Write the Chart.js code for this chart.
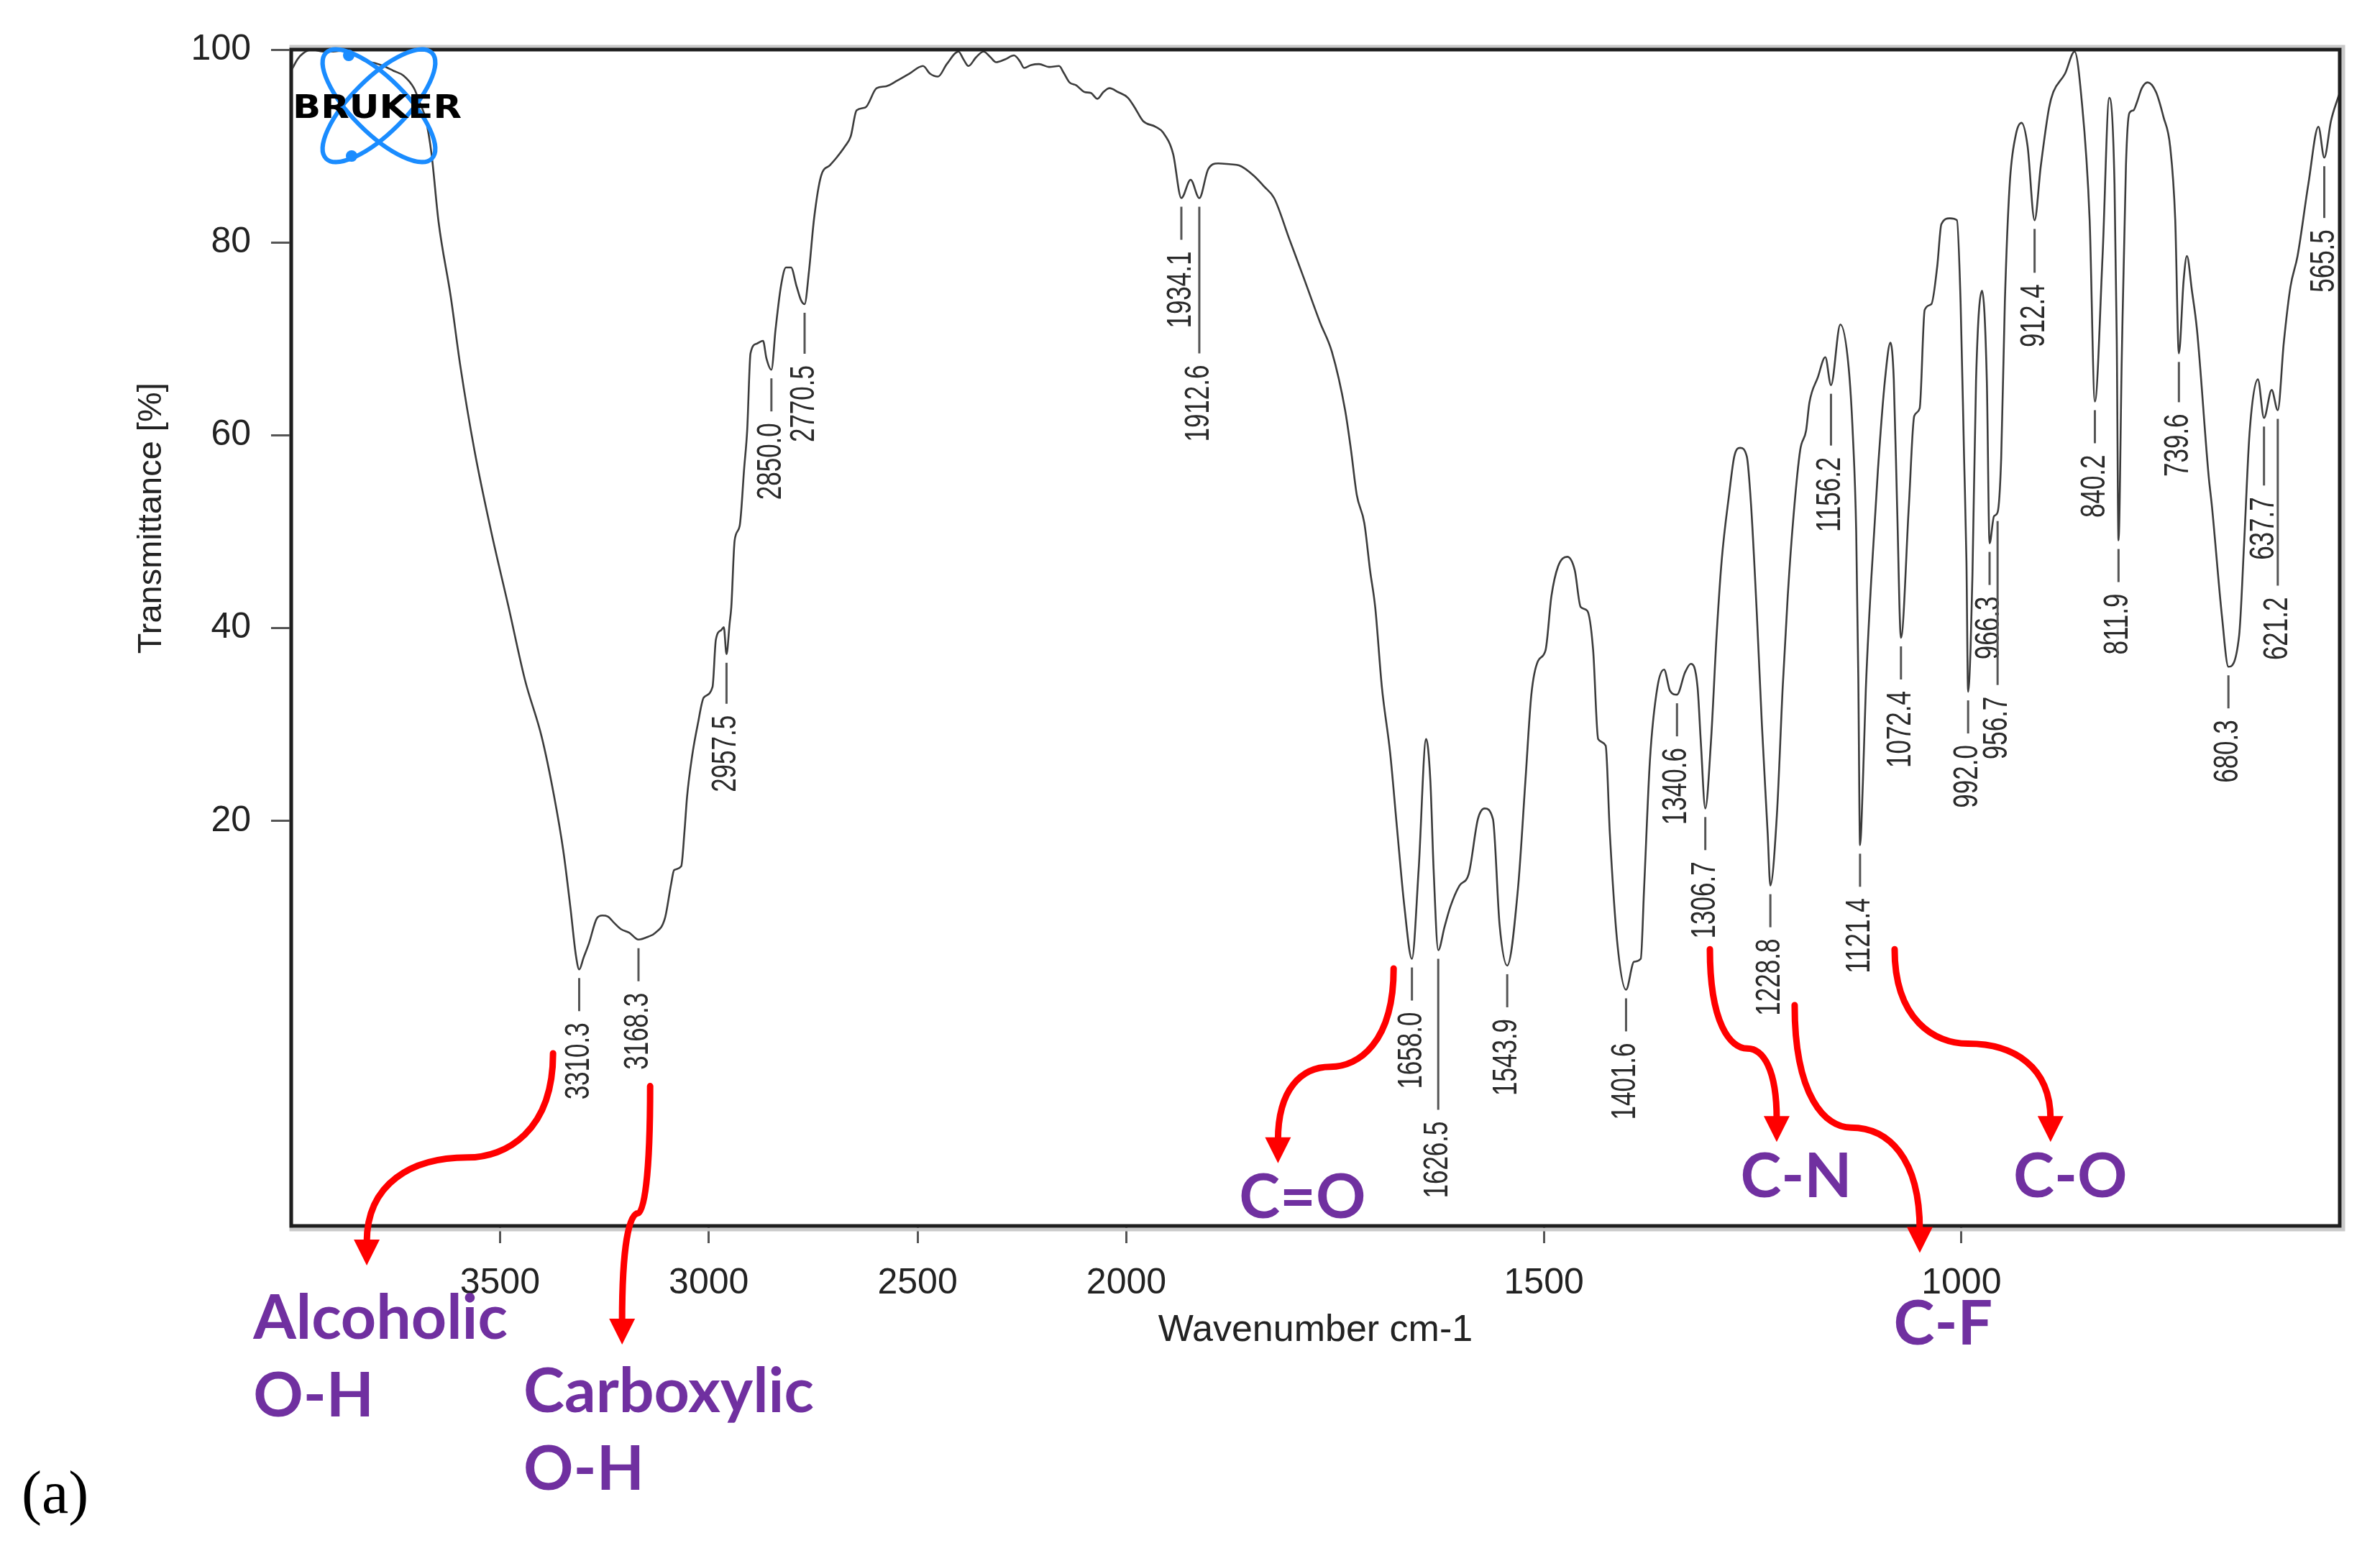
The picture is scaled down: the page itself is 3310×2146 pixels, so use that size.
<!DOCTYPE html>
<html>
<head>
  <meta charset="UTF-8">
  <title>FTIR spectrum (a)</title>
  <script src="https://cdn.jsdelivr.net/npm/chart.js"></script>
  <style>
    html, body { margin: 0; padding: 0; background: #fff; }
    #spectrum { display: block; }
  </style>
</head>
<body>
  <canvas id="spectrum" width="3310" height="2146"></canvas>

  <script>
    // spectrum: wavenumber (cm-1) and transmittance (%)
    const wavenumbers = [
      4000, 3985, 3972, 3950, 3925, 3900, 3875, 3851, 3827, 3800, 3779, 3755, 3731, 3706, 3692, 3678,
      3664, 3647, 3618, 3595, 3561, 3521, 3480, 3440, 3400, 3371, 3348, 3331, 3318, 3310.3, 3300, 3287,
      3268, 3255, 3242, 3226, 3211, 3190, 3168.3, 3145, 3128, 3105, 3090, 3083, 3066, 3058, 3052, 3040,
      3026, 3012, 2991, 2983, 2970, 2964, 2957.5, 2950, 2946, 2938, 2926, 2915, 2908, 2900, 2885, 2870,
      2862, 2850, 2840, 2827, 2815, 2803, 2790, 2779, 2770.5, 2760, 2748, 2731, 2710, 2694, 2675, 2660,
      2646, 2625, 2598, 2575, 2548, 2520, 2487, 2470, 2451, 2430, 2402, 2390, 2378, 2360, 2342, 2325,
      2312, 2290, 2269, 2255, 2245, 2228, 2209, 2185, 2161, 2150, 2136, 2120, 2100, 2085, 2069, 2055,
      2040, 2020, 1998, 1990, 1980, 1965, 1956, 1944, 1934.1, 1923, 1912.6, 1902, 1890, 1875, 1865, 1847,
      1835, 1823, 1805, 1787, 1768, 1754, 1738, 1731, 1724, 1715, 1708, 1702, 1694, 1684, 1676, 1667,
      1658, 1650, 1641, 1636, 1632, 1626.5, 1619, 1612, 1601, 1590, 1579, 1571, 1561, 1553, 1543.9, 1531,
      1522, 1515, 1507, 1498, 1491, 1483, 1472, 1463, 1456, 1448, 1441, 1435, 1426, 1421, 1412, 1401.6,
      1392, 1384, 1380, 1373, 1364, 1356, 1349, 1340.6, 1331, 1324, 1316, 1312, 1306.7, 1300, 1293, 1287,
      1278, 1272, 1265, 1257, 1252, 1245, 1239, 1232, 1228.8, 1221, 1214, 1208, 1201, 1193, 1186, 1182,
      1172, 1163, 1156.2, 1145, 1135, 1130, 1126, 1123.5, 1121.4, 1118, 1114.5, 1108, 1100, 1091.5, 1085, 1081,
      1077, 1072.4, 1063, 1056.5, 1050, 1044, 1036, 1029, 1024, 1014, 1005.4, 1001, 996.8, 994, 992, 989,
      986.8, 982.5, 975.3, 969.6, 966.3, 961, 956.7, 952.4, 948, 942.3, 935, 928, 920.8, 912.4, 905, 895,
      890, 876, 864.5, 856.5, 846.5, 840.2, 831, 823, 816.7, 814, 811.9, 808, 803, 799, 794, 790,
      784, 777, 767, 758, 750, 744, 739.6, 734, 730, 724, 718, 704, 700, 688, 680.3, 667.5,
      661.5, 655, 645, 637.7, 628.5, 621.2, 614, 606, 597.5, 584.5, 572.5, 565.5, 557.5, 549.5, 547
    ];
    const transmittance = [
      97.8, 99.0, 99.6, 100, 99.8, 99.8, 99.9, 99.6, 98.9, 98.6, 98.3, 97.8, 97.3, 96.0, 94.5, 92.8,
      89.2, 82.1, 74.4, 67.2, 58.4, 50.0, 42.3, 34.6, 28.7, 22.7, 16.8, 10.9, 6.0, 4.6, 5.8, 7.3,
      9.9, 10.2, 10.1, 9.4, 8.8, 8.4, 7.7, 8.0, 8.4, 9.9, 13.5, 14.9, 15.3, 19.0, 22.5, 26.7,
      30.1, 32.8, 33.9, 38.8, 39.8, 40.1, 37.3, 40.5, 42.2, 49.1, 50.6, 56.7, 60.5, 68.5, 69.5, 69.8,
      68.0, 66.8, 71.0, 75.5, 77.4, 77.4, 75.5, 74.0, 73.6, 77.0, 82.4, 86.9, 88.0, 88.8, 89.9, 91.0,
      93.7, 94.0, 96.0, 96.2, 96.8, 97.5, 98.3, 97.5, 97.2, 98.5, 99.8, 99.0, 98.3, 99.2, 99.8, 99.2,
      98.7, 99.0, 99.4, 98.8, 98.1, 98.4, 98.5, 98.2, 98.3, 97.6, 96.6, 96.3, 95.6, 95.5, 94.9, 95.6,
      96.0, 95.6, 95.0, 94.0, 92.6, 92.0, 91.4, 89.2, 84.6, 86.5, 84.6, 87.6, 88.2, 88.1, 88.0, 86.9,
      85.8, 84.6, 80.4, 76.2, 71.7, 68.7, 62.6, 58.5, 53.8, 50.9, 45.9, 42.2, 33.9, 27.0, 19.4, 11.1,
      5.7, 14.9, 28.5, 24.3, 14.9, 6.6, 9.0, 11.1, 13.3, 14.5, 20.2, 21.3, 20.2, 9.2, 5.0, 13.0,
      24.3, 33.1, 36.6, 37.7, 43.3, 46.4, 47.4, 46.0, 42.2, 41.8, 37.7, 28.5, 27.8, 18.7, 7.3, 2.5,
      5.4, 5.7, 13.0, 26.3, 33.9, 35.7, 33.5, 33.1, 35.4, 36.3, 33.9, 28.1, 21.3, 28.1, 39.5, 47.1,
      54.0, 57.8, 58.7, 57.8, 52.9, 41.5, 30.1, 18.7, 13.3, 20.6, 33.9, 43.3, 51.7, 58.5, 60.5, 63.4,
      66.0, 68.1, 65.2, 71.5, 67.0, 60.0, 50.0, 35.0, 17.5, 24.0, 33.6, 45.0, 56.4, 65.8, 69.6, 65.8,
      52.6, 39.0, 52.6, 62.0, 62.8, 73.0, 73.6, 77.5, 81.9, 82.5, 82.3, 73.8, 57.6, 47.0, 33.4, 38.0,
      45.5, 65.7, 75.0, 65.7, 48.8, 51.6, 52.0, 57.6, 73.8, 85.9, 91.1, 92.4, 90.0, 82.3, 87.9, 94.0,
      95.6, 97.5, 99.8, 95.2, 82.4, 63.5, 78.6, 95.0, 86.1, 70.0, 49.1, 68.0, 88.0, 93.4, 93.7, 94.5,
      96.0, 96.6, 95.6, 93.0, 89.9, 82.4, 68.5, 76.0, 78.6, 75.0, 71.0, 55.8, 52.6, 41.2, 36.0, 39.2,
      48.8, 60.2, 65.8, 61.8, 64.7, 62.6, 69.6, 75.4, 78.6, 86.1, 92.0, 88.8, 92.6, 94.9, 95.5
    ];

    const xTicks = [3500, 3000, 2500, 2000, 1500, 1000];
    const yTicks = [20, 40, 60, 80, 100];

    const peakLabels = [
      '3310.3', '3168.3', '2957.5', '2850.0', '2770.5', '1934.1', '1912.6', '1658.0', '1626.5',
      '1543.9', '1401.6', '1340.6', '1306.7', '1228.8', '1156.2', '1121.4', '1072.4', '992.0',
      '966.3', '956.7', '912.4', '840.2', '811.9', '739.6', '680.3', '637.7', '621.2', '565.5'
    ];

    const bandNames = ['Alcoholic\nO-H', 'Carboxylic\nO-H', 'C=O', 'C-N', 'C-F', 'C-O'];

    // below 2000 cm-1 the axis is stretched by two, as in the instrument plot
    const X_BREAK = 2000;
    const X_EXPAND = 2;

    class WavenumberScale extends Chart.LinearScale {
      _units(v) {
        return v >= X_BREAK ? this.max - v : (this.max - X_BREAK) + (X_BREAK - v) * X_EXPAND;
      }
      getPixelForValue(value) {
        return this.getPixelForDecimal(this._units(value) / this._units(this.min));
      }
      getValueForPixel(pixel) {
        const u = this.getDecimalForPixel(pixel) * this._units(this.min);
        const upper = this.max - X_BREAK;
        return u <= upper ? this.max - u : X_BREAK - (u - upper) / X_EXPAND;
      }
    }
    WavenumberScale.id = 'wavenumber';
    WavenumberScale.defaults = {};
    Chart.register(WavenumberScale);

    function troughAt(wn) {
      let best = Infinity;
      wavenumbers.forEach((w, i) => {
        if (Math.abs(w - wn) <= 3 && transmittance[i] < best) best = transmittance[i];
      });
      return best;
    }

    const decor = {
      id: 'decor',
      afterDraw(chart, args, opts) {
        const ctx = chart.ctx;
        const {left, top, right, bottom} = chart.chartArea;
        const xs = chart.scales.x, ys = chart.scales.y;
        const px = (wn, t) => ({x: xs.getPixelForValue(wn), y: ys.getPixelForValue(t)});

        // frame
        ctx.save();
        ctx.strokeStyle = '#c9c9c9';
        ctx.lineWidth = 5;
        ctx.strokeRect(left, top - 4, right - left + 5, bottom - top + 9);
        ctx.strokeStyle = '#1e1e1e';
        ctx.strokeRect(left, top, right - left, bottom - top);
        ctx.restore();

        // peak labels with leaders
        ctx.save();
        ctx.fillStyle = '#2a2a2a';
        ctx.strokeStyle = '#555';
        ctx.lineWidth = 3;
        ctx.font = '35px "Liberation Sans", Arial, sans-serif';
        ctx.textAlign = 'right';
        ctx.textBaseline = 'middle';
        peakLabels.forEach(lbl => {
          const wn = parseFloat(lbl);
          const p = px(wn, troughAt(wn));
          const len = opts.leaders[lbl] || 46;
          const y0 = p.y + 12, y1 = y0 + len;
          ctx.beginPath();
          ctx.moveTo(p.x, y0);
          ctx.lineTo(p.x, y1);
          ctx.stroke();
          ctx.save();
          ctx.translate(p.x, y1 + 16);
          ctx.rotate(-Math.PI / 2);
          ctx.scale(1, 1.35);
          ctx.fillText(lbl, 0, 0);
          ctx.restore();
        });
        ctx.restore();

        // red arrows
        ctx.save();
        ctx.strokeStyle = '#ff0000';
        ctx.fillStyle = '#ff0000';
        ctx.lineWidth = 9;
        ctx.lineCap = 'round';
        opts.arrows.forEach(a => {
          const s = px(a[0][0], a[0][1]), m = px(a[1][0], a[1][1]), t = px(a[2][0], a[2][1]);
          const e = {x: t.x, y: t.y - 32};
          ctx.beginPath();
          ctx.moveTo(s.x, s.y);
          ctx.bezierCurveTo(s.x, s.y + 0.75 * (m.y - s.y), m.x + 0.45 * (s.x - m.x), m.y, m.x, m.y);
          ctx.bezierCurveTo(m.x + 0.55 * (e.x - m.x), m.y, e.x, m.y + 0.3 * (e.y - m.y), e.x, e.y);
          ctx.stroke();
          ctx.beginPath();
          ctx.moveTo(t.x, t.y);
          ctx.lineTo(e.x - 18, e.y - 4);
          ctx.lineTo(e.x + 18, e.y - 4);
          ctx.closePath();
          ctx.fill();
        });
        ctx.restore();

        // band names
        ctx.save();
        ctx.fillStyle = '#7030a0';
        ctx.font = 'bold 86px Lato, "Liberation Sans", sans-serif';
        ctx.textBaseline = 'alphabetic';
        opts.bands.forEach((b, i) => {
          const p = px(b.wn, b.t);
          ctx.textAlign = b.align;
          bandNames[i].split('\n').forEach((line, k) => ctx.fillText(line, p.x, p.y + k * 108));
        });
        ctx.restore();

        // y axis title
        ctx.save();
        ctx.translate(left - 194, ys.getPixelForValue(51.4));
        ctx.rotate(-Math.PI / 2);
        ctx.fillStyle = '#222';
        ctx.font = '47px "Liberation Sans", Arial, sans-serif';
        ctx.textAlign = 'center';
        ctx.textBaseline = 'middle';
        ctx.fillText('Transmittance [%]', 0, 0);
        ctx.restore();

        // instrument logo
        ctx.save();
        const cx = left + 122, cy = top + 78;
        ctx.strokeStyle = '#1a8cff';
        ctx.fillStyle = '#1a8cff';
        ctx.lineWidth = 6;
        [Math.PI / 4, -Math.PI / 4].forEach(r => {
          ctx.beginPath();
          ctx.ellipse(cx, cy, 104, 38, r, 0, Math.PI * 2);
          ctx.stroke();
        });
        [[-42, -70], [-38, 70]].forEach(d => {
          ctx.beginPath();
          ctx.arc(cx + d[0], cy + d[1], 8, 0, Math.PI * 2);
          ctx.fill();
        });
        ctx.fillStyle = '#000';
        ctx.font = 'bold 44px "DejaVu Sans", sans-serif';
        ctx.textAlign = 'left';
        ctx.textBaseline = 'alphabetic';
        const w = ctx.measureText('BRUKER').width;
        ctx.translate(left + 2, top + 95);
        ctx.scale(235 / w, 1);
        ctx.fillText('BRUKER', 0, 0);
        ctx.restore();

        // panel letter
        ctx.save();
        ctx.fillStyle = '#000';
        ctx.font = '84px "Liberation Serif", "Times New Roman", serif';
        ctx.textAlign = 'left';
        ctx.fillText('(a)', 30, chart.height - 42);
        ctx.restore();
      }
    };

    new Chart(document.getElementById('spectrum'), {
      type: 'line',
      data: {
        datasets: [{
          data: wavenumbers.map((w, i) => ({x: w, y: transmittance[i]})),
          borderColor: '#3c3c3c',
          borderWidth: 2.6,
          pointRadius: 0,
          fill: false,
          cubicInterpolationMode: 'monotone'
        }]
      },
      options: {
        responsive: false,
        animation: false,
        devicePixelRatio: 1,
        layout: { padding: { left: 0, top: 69, right: 56, bottom: 0 } },
        font: { family: '"Liberation Sans", Arial, sans-serif' },
        plugins: {
          legend: { display: false },
          tooltip: { enabled: false },
          decor: {
            leaders: {
              '1912.6': 204, '1626.5': 210, '956.7': 228, '621.2': 232, '637.7': 82,
              '912.4': 61, '1156.2': 72, '565.5': 72, '2957.5': 57, '2770.5': 57, '739.6': 56
            },
            arrows: [
              [[3372.9, -4.1], [3577.9, -14.9], [3819.1, -26.1]],
              [[3140.4, -7.5], [3169.7, -20.7], [3207.6, -34.3]],
              [[1679.9, 4.7], [1755.6, -5.5], [1818.4, -15.5]],
              [[1301.2, 6.7], [1256.5, -3.6], [1221.2, -13.3]],
              [[1199.7, 0.9], [1132.5, -11.8], [1049.9, -24.8]],
              [[1080.0, 6.7], [992.3, -3.1], [893.3, -13.3]]
            ],
            bands: [
              { wn: 4091, t: -33.7, align: 'left' },
              { wn: 3443.6, t: -41.3, align: 'left' },
              { wn: 1789.2, t: -21.2, align: 'center' },
              { wn: 1197.9, t: -19.0, align: 'center' },
              { wn: 1021.9, t: -34.3, align: 'center' },
              { wn: 869.6, t: -19.0, align: 'center' }
            ]
          }
        },
        scales: {
          x: {
            type: 'wavenumber',
            min: 547,
            max: 4000,
            afterBuildTicks: s => { s.ticks = xTicks.map(v => ({value: v})); },
            afterFit: s => { s.height = 441; },
            ticks: {
              callback: v => String(v),
              font: { size: 50 },
              color: '#222',
              padding: 26,
              maxRotation: 0,
              autoSkip: false
            },
            grid: { drawOnChartArea: false, drawTicks: true, tickLength: 24, tickWidth: 3, tickColor: '#555' },
            border: { display: false },
            title: {
              display: true,
              text: 'Wavenumber cm-1',
              font: { size: 52 },
              color: '#222',
              padding: { top: 0, bottom: 264 }
            }
          },
          y: {
            min: -22,
            max: 100,
            afterBuildTicks: s => { s.ticks = yTicks.map(v => ({value: v})); },
            afterFit: s => { s.width = 405; },
            ticks: {
              callback: v => String(v),
              font: { size: 50 },
              color: '#222',
              padding: 28
            },
            grid: { drawOnChartArea: false, drawTicks: true, tickLength: 28, tickWidth: 3, tickColor: '#555' },
            border: { display: false }
          }
        }
      },
      plugins: [decor]
    });
  </script>
</body>
</html>
